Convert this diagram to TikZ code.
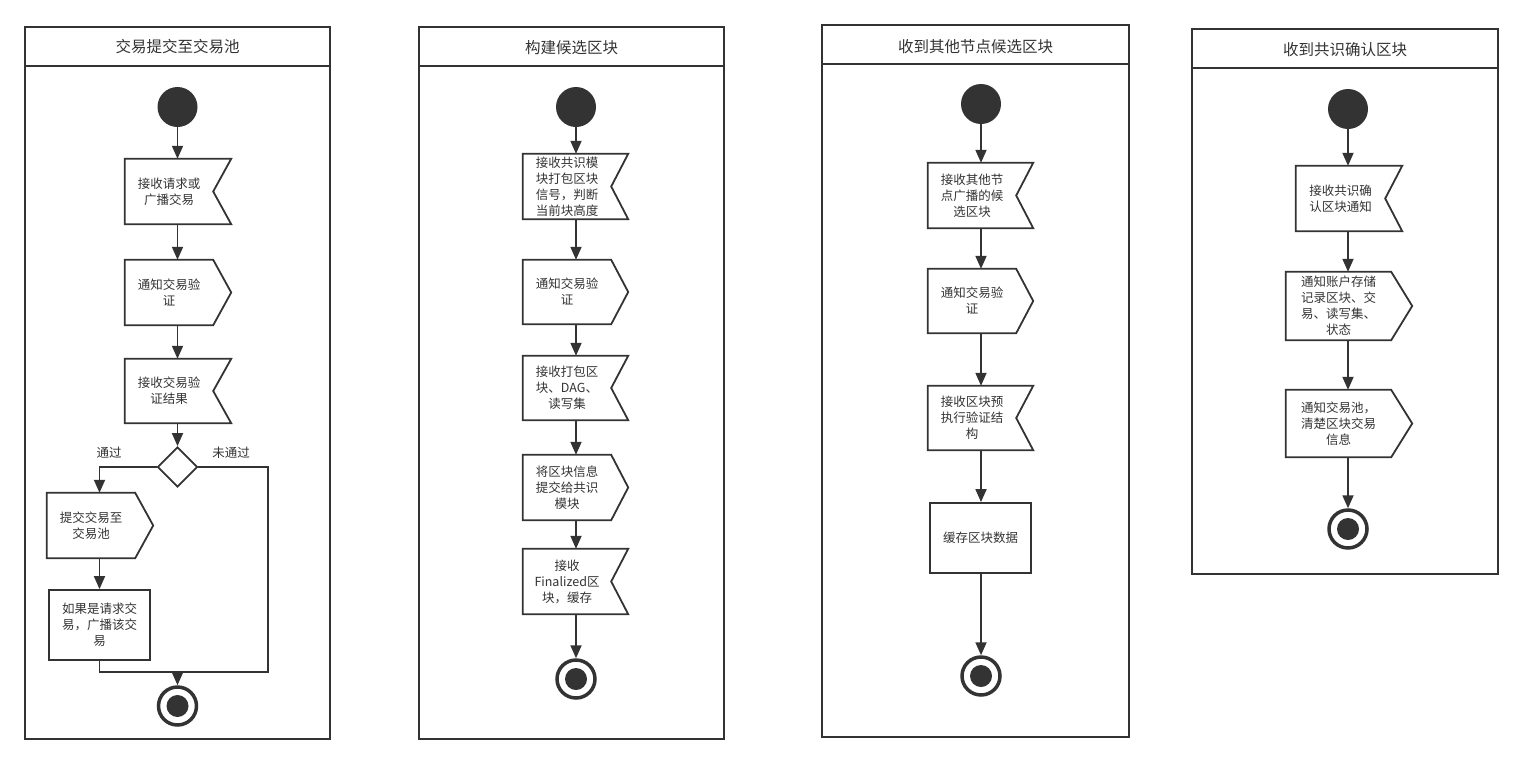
\documentclass[tikz,border=0pt]{standalone}
\usepackage{fontspec}
\setmainfont{Noto Sans CJK SC}
\usetikzlibrary{arrows.meta,shapes.geometric}
\definecolor{ink}{HTML}{333333}
\newcommand\recvout[2]{\draw[ln] (#1.north west) -- ([xshift=#2]#1.north east) -- (#1.east) -- ([xshift=#2]#1.south east) -- (#1.south west) -- cycle;}
\newcommand\sendout[2]{\draw[ln] (#1.north west) -- (#1.north east) -- ([xshift=#2]#1.east) -- (#1.south east) -- (#1.south west) -- cycle;}
\begin{document}
\begin{tikzpicture}[x=1pt,y=-1pt,
  ln/.style={draw=ink,line width=1.8pt,line join=miter},
  arr/.style={draw=ink,line width=1.8pt,-{Triangle[length=13pt,width=11pt]}},
  frm/.style={draw=ink,line width=2pt},
  ttl/.style={text=ink,font=\fontsize{15.5}{18}\selectfont,inner sep=0pt},
  body/.style={draw=none,inner sep=0pt,minimum width=88pt,minimum height=65pt,align=center,text=ink,font=\fontsize{12.5}{16}\selectfont},
  boxed/.style={body,draw=ink,line width=1.8pt},
  lbl/.style={text=ink,font=\fontsize{12.5}{15}\selectfont,inner sep=0pt},
  startc/.style={circle,fill=ink,minimum size=40pt,inner sep=0pt},
  endc/.style={circle,draw=ink,line width=3.5pt,minimum size=38pt,inner sep=0pt},
  endin/.style={circle,fill=ink,minimum size=22pt,inner sep=0pt},
  dia/.style={diamond,draw=ink,line width=1.8pt,minimum width=40pt,minimum height=40pt,inner sep=0pt}]
\useasboundingbox (0,0) rectangle (1522,763);

% ---------- Panel 1 ----------
\draw[frm] (25,27) rectangle (330,739);
\draw[frm] (25,66) -- (330,66);
\node[ttl] (Atitle) at (177.5,47) {交易提交至交易池};
\node[startc] (Astart) at (177.5,107) {};
\node[body] (Ar1) at (169,191.5) {接收请求或\\广播交易};
\recvout{Ar1}{18pt}
\node[body] (As1) at (169,292.5) {通知交易验\\证};
\sendout{As1}{18pt}
\node[body,minimum height=64pt] (Ar2) at (169,391) {接收交易验\\证结果};
\recvout{Ar2}{18pt}
\node[dia] (Ad) at (177.5,467) {};
\node[body] (As2) at (91,525.5) {提交交易至\\交易池};
\sendout{As2}{18pt}
\node[boxed,minimum width=101pt,minimum height=70pt] (Ab) at (99.5,625) {如果是请求交\\易，广播该交\\易};
\node[endc] (Aend) at (177.5,706) {};
\node[endin] (Aendin) at (Aend) {};
\coordinate (Am) at (177.5,672);
\node[lbl] (Apass) at (109,453) {通过};
\node[lbl] (Afail) at (231,453) {未通过};
\draw[arr] (Astart.south) -- (Astart.south |- Ar1.north);
\draw[arr] (Ar1.south -| Astart) -- (As1.north -| Astart);
\draw[arr] (As1.south -| Astart) -- (Ar2.north -| Astart);
\draw[arr] (Ar2.south -| Astart) -- (Ad.north);
\draw[arr] (Ad.west) -| (As2.north -| Ab.north);
\draw[arr] (As2.south -| Ab.north) -- (Ab.north);
\draw[ln] (Ab.south) |- (Am);
\draw[ln] (Ad.east) -- ++(69.5,0) |- (Am);
\draw[arr] (Am) -- (Aend.north);

% ---------- Panel 2 ----------
\draw[frm] (419,27) rectangle (724,739);
\draw[frm] (419,66) -- (724,66);
\node[ttl] (Btitle) at (571.5,48) {构建候选区块};
\node[startc] (Bstart) at (576,107) {};
\node[body] (Br1) at (567,186.5) {接收共识模\\块打包区块\\信号，判断\\当前块高度};
\recvout{Br1}{17pt}
\node[body,minimum height=64pt] (Bs1) at (567,292) {通知交易验\\证};
\sendout{Bs1}{17pt}
\node[body,minimum height=64pt] (Br2) at (567,388) {接收打包区\\块、DAG、\\读写集};
\recvout{Br2}{17pt}
\node[body] (Bs2) at (567,487.5) {将区块信息\\提交给共识\\模块};
\sendout{Bs2}{17pt}
\node[body] (Br3) at (567,581.5) {接收\\Finalized区\\块，缓存};
\recvout{Br3}{17pt}
\node[endc] (Bend) at (576,679) {};
\node[endin] (Bendin) at (Bend) {};
\draw[arr] (Bstart.south) -- (Bstart.south |- Br1.north);
\draw[arr] (Br1.south -| Bstart) -- (Bs1.north -| Bstart);
\draw[arr] (Bs1.south -| Bstart) -- (Br2.north -| Bstart);
\draw[arr] (Br2.south -| Bstart) -- (Bs2.north -| Bstart);
\draw[arr] (Bs2.south -| Bstart) -- (Br3.north -| Bstart);
\draw[arr] (Br3.south -| Bstart) -- (Bend.north);

% ---------- Panel 3 ----------
\draw[frm] (822,25) rectangle (1129,737);
\draw[frm] (822,64) -- (1129,64);
\node[ttl] (Ctitle) at (975.5,47) {收到其他节点候选区块};
\node[startc] (Cstart) at (981,104) {};
\node[body] (Cr1) at (972,195.5) {接收其他节\\点广播的候\\选区块};
\recvout{Cr1}{17pt}
\node[body,minimum height=64pt] (Cs1) at (972,301) {通知交易验\\证};
\sendout{Cs1}{17pt}
\node[body,minimum height=64pt] (Cr2) at (972,418) {接收区块预\\执行验证结\\构};
\recvout{Cr2}{17pt}
\node[boxed,minimum width=101pt,minimum height=70pt] (Cb) at (980.5,538) {缓存区块数据};
\node[endc] (Cend) at (981,676) {};
\node[endin] (Cendin) at (Cend) {};
\draw[arr] (Cstart.south) -- (Cstart.south |- Cr1.north);
\draw[arr] (Cr1.south -| Cstart) -- (Cs1.north -| Cstart);
\draw[arr] (Cs1.south -| Cstart) -- (Cr2.north -| Cstart);
\draw[arr] (Cr2.south -| Cstart) -- (Cb.north -| Cstart);
\draw[arr] (Cb.south -| Cstart) -- (Cend.north);

% ---------- Panel 4 ----------
\draw[frm] (1192,29) rectangle (1498,574);
\draw[frm] (1192,68) -- (1498,68);
\node[ttl] (Dtitle) at (1345,50) {收到共识确认区块};
\node[startc] (Dstart) at (1348,109) {};
\node[body,minimum width=89pt] (Dr1) at (1340.5,198.5) {接收共识确\\认区块通知};
\recvout{Dr1}{17pt}
\node[body,minimum width=105pt,minimum height=68pt] (Ds1) at (1338.5,306) {通知账户存储\\记录区块、交\\易、读写集、\\状态};
\sendout{Ds1}{21pt}
\node[body,minimum width=105pt,minimum height=67pt] (Ds2) at (1338.5,423.5) {通知交易池，\\清楚区块交易\\信息};
\sendout{Ds2}{21pt}
\node[endc] (Dend) at (1348,529) {};
\node[endin] (Dendin) at (Dend) {};
\draw[arr] (Dstart.south) -- (Dstart.south |- Dr1.north);
\draw[arr] (Dr1.south -| Dstart) -- (Ds1.north -| Dstart);
\draw[arr] (Ds1.south -| Dstart) -- (Ds2.north -| Dstart);
\draw[arr] (Ds2.south -| Dstart) -- (Dend.north);
\end{tikzpicture}
\end{document}
